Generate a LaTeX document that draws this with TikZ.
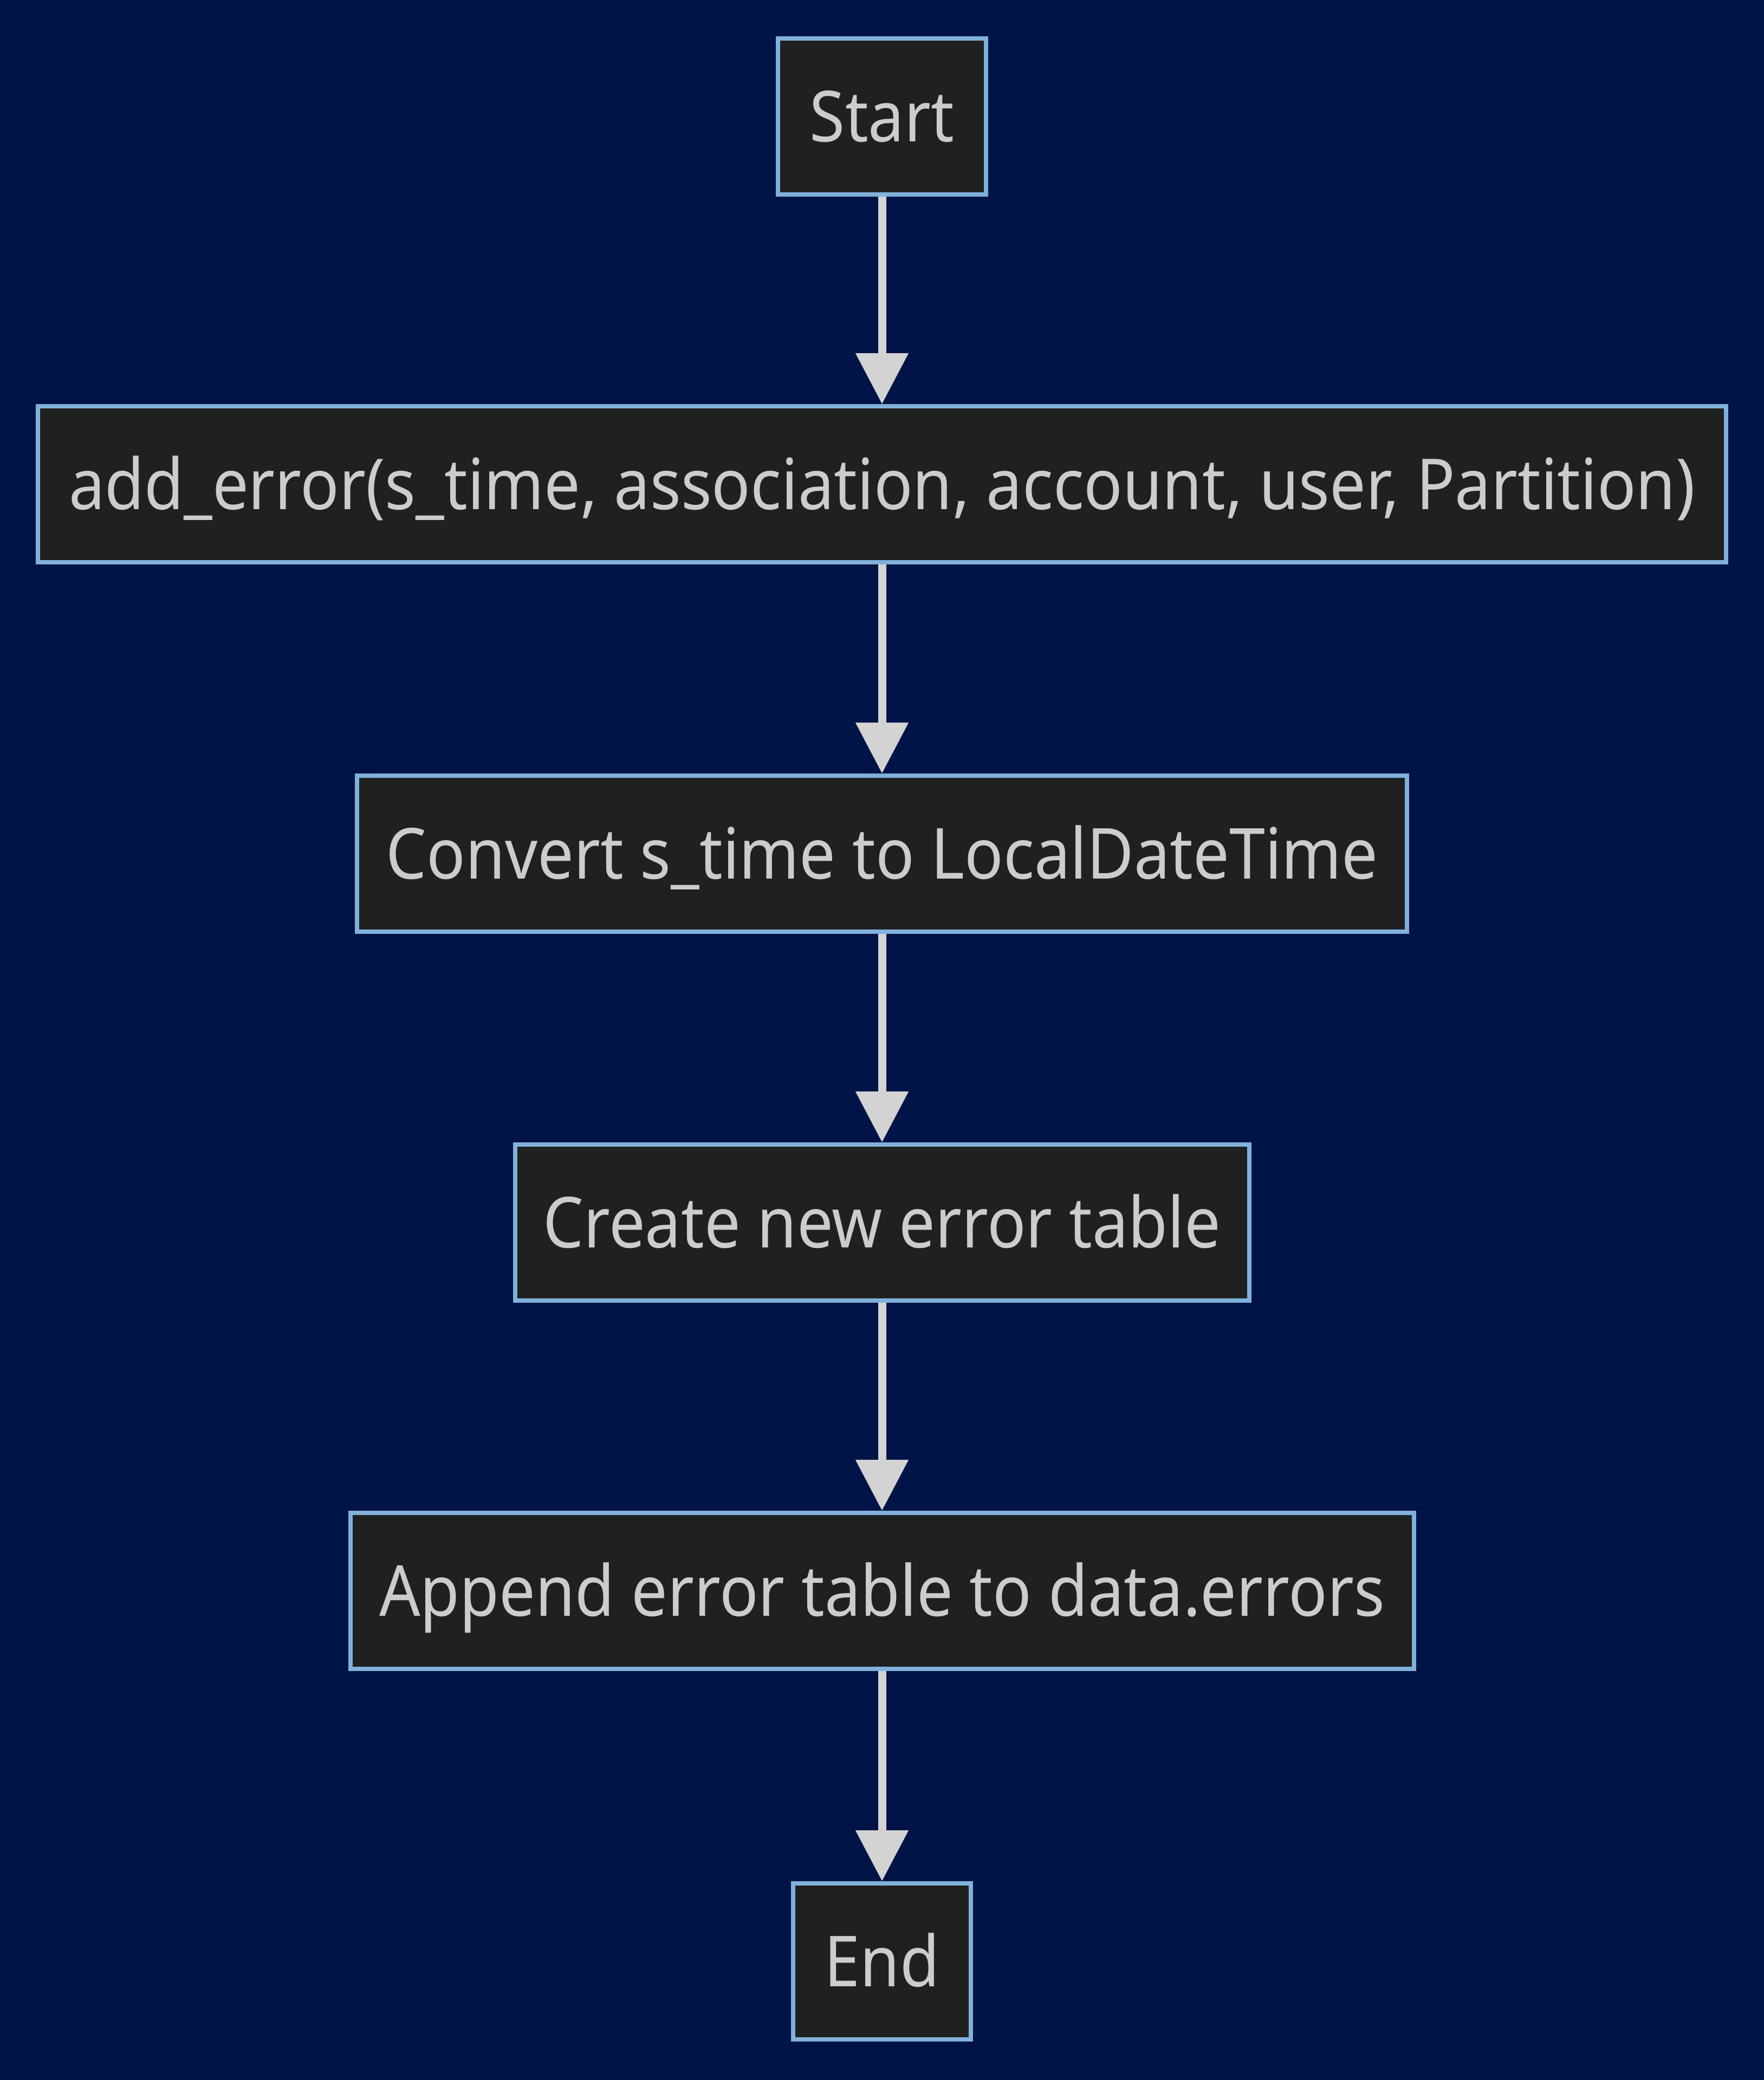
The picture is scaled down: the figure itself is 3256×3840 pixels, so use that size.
\documentclass[tikz,border=0pt]{standalone}
\usepackage{fontspec}
\setmainfont[FakeStretch=0.912]{Noto Sans}
\usepackage{tikz}
\usetikzlibrary{arrows.meta, shapes}
\definecolor{hgrund}{HTML}{001447}
\definecolor{kasten}{HTML}{1F2020}
\definecolor{rahmen}{HTML}{81B1DB}
\definecolor{schrift}{HTML}{CCCCCC}
\definecolor{pfeil}{HTML}{D3D3D3}
\tikzstyle{line} = [draw=pfeil, line width=7.5pt, -{Triangle[length=47pt,width=47pt]}]

\begin{document}
\begin{tikzpicture}[box/.style={draw=rahmen, fill=kasten, line width=4pt, text=schrift, minimum height=144pt, inner sep=0pt, text height=46.5pt, text depth=0pt, font=\fontsize{65}{78}\selectfont}, x=0.5pt, y=-0.5pt]
	%Hintergrund
	\fill[hgrund] (0,0) rectangle (3256,3840);
	\useasboundingbox (0,0) rectangle (3256,3840);
	%Kaesten
	\node[box, minimum width=192pt] (start) at (1628,215) {Start};
	\node[box, minimum width=1558pt] (adderr) at (1628,894) {add\_error(s\_time, association, account, user, Partition)};
	\node[box, minimum width=969pt] (convert) at (1628,1576) {Convert s\_time to LocalDateTime};
	\node[box, minimum width=677.5pt] (create) at (1628,2257) {Create new error table};
	\node[box, minimum width=981.5pt] (append) at (1628,2937) {Append error table to data.errors};
	\node[box, minimum width=164pt] (ende) at (1628,3621) {End};
	%Pfeile
	\path[line] (start) -- (adderr);
	\path[line] (adderr) -- (convert);
	\path[line] (convert) -- (create);
	\path[line] (create) -- (append);
	\path[line] (append) -- (ende);
\end{tikzpicture}
\end{document}
